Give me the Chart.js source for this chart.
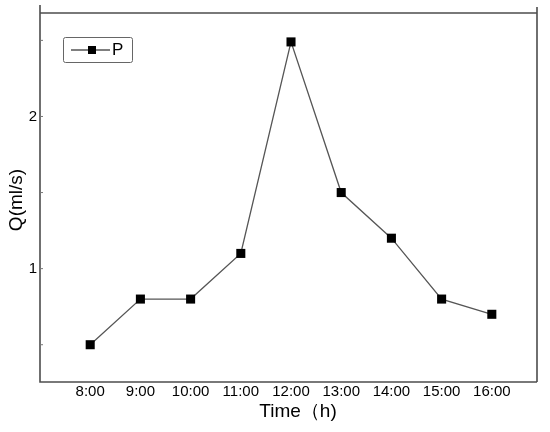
<!DOCTYPE html>
<html>
<head>
<meta charset="utf-8">
<script src="https://cdn.jsdelivr.net/npm/chart.js@4"></script>
<style>
	body { margin: 0; background: #fff; }
</style>
</head>
<body>
<canvas id="flow_chart" width="550" height="432"></canvas>
<script>
// chart data
const hours = ['8:00', '9:00', '10:00', '11:00', '12:00', '13:00', '14:00', '15:00', '16:00'];
const flowP = [0.5, 0.8, 0.8, 1.1, 2.49, 1.5, 1.2, 0.8, 0.7];
const yTicks = [0.5, 1, 1.5, 2, 2.5];
const seriesName = 'P';
const xTitle = 'Time（h)';
const yTitle = 'Q(ml/s)';

const fontFam = '"Liberation Sans", Arial, sans-serif';
const frameColor = '#4d4d4d';

// frame with the little overhang on top + inside ticks
const framePlugin = {
	id: 'frame',
	beforeDatasetsDraw(chart) {
		const ctx = chart.ctx,
			a = chart.chartArea,
			yScale = chart.scales.y;
		ctx.save();
		ctx.strokeStyle = frameColor;
		ctx.lineWidth = 1.6;
		ctx.beginPath();
		ctx.moveTo(a.left, a.top - 8);
		ctx.lineTo(a.left, a.bottom);
		ctx.lineTo(a.right, a.bottom);
		ctx.moveTo(a.right, a.top - 6);
		ctx.lineTo(a.right, a.bottom);
		ctx.moveTo(a.left, a.top);
		ctx.lineTo(a.right, a.top);
		ctx.stroke();
		// inside ticks on the y axis
		ctx.lineWidth = 1;
		ctx.strokeStyle = '#777';
		ctx.beginPath();
		yTicks.forEach((v) => {
			let py = yScale.getPixelForValue(v);
			ctx.moveTo(a.left, py);
			ctx.lineTo(a.left + 3, py);
		});
		ctx.stroke();
		ctx.restore();
	},
	afterDraw(chart) {
		const ctx = chart.ctx,
			a = chart.chartArea;
		ctx.save();
		ctx.fillStyle = '#000';
		ctx.textAlign = 'center';
		ctx.textBaseline = 'middle';
		ctx.font = `19px ${fontFam}`;
		// axis titles
		ctx.fillText(xTitle, a.left + 258, 412);
		ctx.translate(17, 200);
		ctx.rotate(-Math.PI / 2);
		ctx.fillText(yTitle, 0, 0);
		ctx.restore();

		// legend box
		const ds = chart.data.datasets[0];
		ctx.save();
		ctx.strokeStyle = '#666';
		ctx.lineWidth = 1;
		ctx.beginPath();
		ctx.roundRect(63.5, 37.5, 69, 25, 2);
		ctx.stroke();
		ctx.strokeStyle = ds.borderColor;
		ctx.lineWidth = ds.borderWidth;
		ctx.beginPath();
		ctx.moveTo(71, 50);
		ctx.lineTo(110, 50);
		ctx.stroke();
		ctx.fillStyle = ds.pointBackgroundColor;
		ctx.fillRect(88, 46, 8, 8);
		ctx.fillStyle = '#000';
		ctx.font = `17px ${fontFam}`;
		ctx.textBaseline = 'middle';
		ctx.fillText(ds.label, 112, 50.5);
		ctx.restore();
	}
};

const ctx = document.getElementById('flow_chart');
new Chart(ctx, {
	type: 'line',
	data: {
		datasets: [{
			label: seriesName,
			data: flowP.map((v, i) => ({ x: i, y: v })),
			borderColor: '#555',
			borderWidth: 1.3,
			pointStyle: 'rect',
			pointRadius: 6.4,
			pointBorderWidth: 0,
			pointBackgroundColor: '#000',
			pointBorderColor: '#000',
			tension: 0
		}]
	},
	options: {
		responsive: false,
		animation: false,
		layout: {
			padding: { top: 13, right: 13, left: 0, bottom: 0 }
		},
		scales: {
			x: {
				type: 'linear',
				min: -1,
				max: 8.9,
				afterFit: (scale) => { scale.height = 50; },
				afterBuildTicks: (scale) => {
					scale.ticks = hours.map((_, i) => ({ value: i }));
				},
				grid: { display: false, drawTicks: false },
				border: { display: false },
				ticks: {
					padding: 1,
					maxRotation: 0,
					autoSkip: false,
					color: '#000',
					font: { family: fontFam, size: 15 },
					callback: (value) => hours[value] ?? ''
				}
			},
			y: {
				min: 0.255,
				max: 2.68,
				afterFit: (scale) => { scale.width = 40; },
				afterBuildTicks: (scale) => {
					scale.ticks = yTicks.map((v) => ({ value: v }));
				},
				grid: { display: false, drawTicks: false },
				border: { display: false },
				ticks: {
					padding: 3,
					color: '#000',
					font: { family: fontFam, size: 15 },
					callback: (value) => Number.isInteger(value) ? `${value}` : ''
				}
			}
		},
		plugins: {
			legend: { display: false },
			tooltip: { enabled: false }
		}
	},
	plugins: [framePlugin]
});
</script>
</body>
</html>
